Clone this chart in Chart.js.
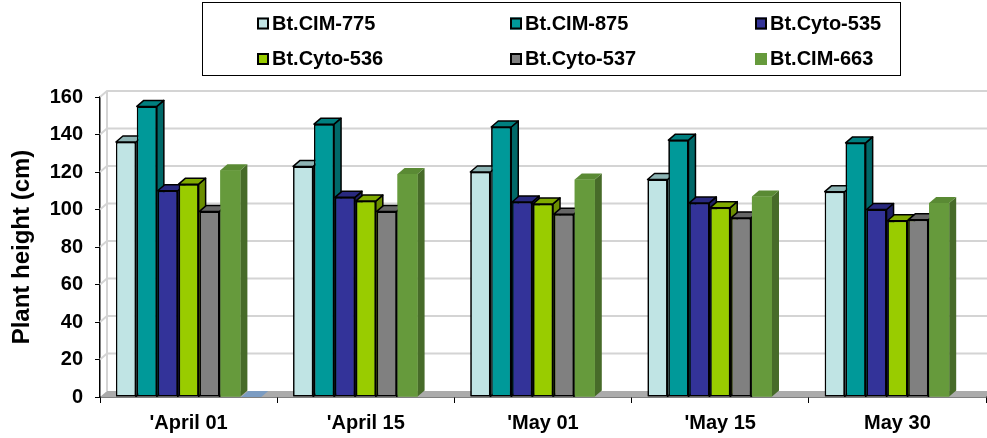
<!DOCTYPE html>
<html>
<head>
<meta charset="utf-8">
<script src="https://cdn.jsdelivr.net/npm/chart.js@4.4.1/dist/chart.umd.min.js"></script>
<style>
  html, body { margin: 0; padding: 0; background: #fff; }
  #chart { display: block; }
</style>
</head>
<body>
<canvas id="chart" width="987" height="438"></canvas>
<script>
const dates = ["'April 01", "'April 15", "'May 01", "'May 15", "May 30"];
const varieties = ["Bt.CIM-775", "Bt.CIM-875", "Bt.Cyto-535", "Bt.Cyto-536", "Bt.Cyto-537", "Bt.CIM-663"];

const cim775 = [136, 123, 120, 116, 109.5];
const cim875 = [155, 145.5, 144, 137, 135.5];
const cyto535 = [110, 106.5, 104, 103.5, 100];
const cyto536 = [113.5, 104.5, 103, 101, 94];
const cyto537 = [99, 99, 97.5, 95.5, 94.5];
const cim663 = [121, 119, 116, 107, 103.5];
// empty series slot, only shows as a flat base on the first date
const blank = [0, null, null, null, null];

const yTicks = [0, 20, 40, 60, 80, 100, 120, 140, 160];

const fronts = ["#C0E4E4", "#009999", "#333399", "#99CC00", "#808080", "#669A3C", "#7B9CC2"];
const tops = ["#8DB4B4", "#007F7F", "#29297F", "#80AA00", "#666666", "#5A8A34", "#7B9CC2"];
const sides = ["#8DB4B4", "#006868", "#202066", "#6B8E00", "#555555", "#476B29", "#6A88AA"];
const outlined = [true, true, true, true, true, false, false];

const dx = 7, dy = -6;
const FONT = '"Liberation Sans", Arial, sans-serif';

// back wall, floor and gridlines behind the bars
const wallPlugin = {
  id: 'wall',
  beforeDatasetsDraw(chart) {
    const { ctx, chartArea: a, scales } = chart;
    const ys = scales.y;
    ctx.save();
    ctx.lineWidth = 2;
    ctx.strokeStyle = '#D4D4D4';
    yTicks.forEach(v => {
      if (v === 0) return;
      const py = ys.getPixelForValue(v);
      ctx.beginPath();
      ctx.moveTo(a.left, py);
      ctx.lineTo(a.left + dx, py + dy);
      ctx.lineTo(a.right + dx, py + dy);
      ctx.stroke();
    });
    // left wall edge
    ctx.beginPath();
    ctx.moveTo(a.left + dx, ys.getPixelForValue(160) + dy);
    ctx.lineTo(a.left + dx, a.bottom + dy);
    ctx.stroke();
    // floor
    ctx.fillStyle = '#ABABAB';
    ctx.beginPath();
    ctx.moveTo(a.left, a.bottom);
    ctx.lineTo(a.left + dx, a.bottom + dy);
    ctx.lineTo(a.right + dx, a.bottom + dy);
    ctx.lineTo(a.right, a.bottom);
    ctx.closePath();
    ctx.fill();
    ctx.restore();
  }
};

// top and side faces, then the front face again so neighbours overlap properly
const barsPlugin = {
  id: 'bars3d',
  afterDatasetsDraw(chart) {
    const ctx = chart.ctx;
    ctx.save();
    ctx.beginPath();
    ctx.rect(chart.chartArea.left, 0, chart.chartArea.width, chart.chartArea.bottom);
    ctx.clip();
    ctx.lineJoin = 'round';
    chart.data.datasets.forEach((ds, i) => {
      const meta = chart.getDatasetMeta(i);
      meta.data.forEach((bar, j) => {
        if (ds.data[j] == null) return;
        const { x, y, base, width } = bar.getProps(['x', 'y', 'base', 'width'], true);
        const l = x - width / 2, r = x + width / 2;
        ctx.lineWidth = 1.5;
        ctx.strokeStyle = '#000';

        ctx.beginPath();
        ctx.moveTo(r, y);
        ctx.lineTo(r + dx, y + dy);
        ctx.lineTo(r + dx, base + dy);
        ctx.lineTo(r, base);
        ctx.closePath();
        ctx.fillStyle = sides[i];
        ctx.fill();
        if (outlined[i]) ctx.stroke();

        ctx.beginPath();
        ctx.moveTo(l, y);
        ctx.lineTo(l + dx, y + dy);
        ctx.lineTo(r + dx, y + dy);
        ctx.lineTo(r, y);
        ctx.closePath();
        ctx.fillStyle = tops[i];
        ctx.fill();
        if (outlined[i]) ctx.stroke();

        bar.draw(ctx);
      });
    });
    ctx.restore();
  }
};

// boxed legend, three columns by two rows
const legendPlugin = {
  id: 'boxLegend',
  afterDraw(chart) {
    const ctx = chart.ctx;
    const colX = [257, 510, 755];
    const rowY = [23.5, 59];
    ctx.save();
    ctx.strokeStyle = '#000';
    ctx.lineWidth = 1;
    ctx.strokeRect(202.5, 2.5, 698, 73);
    ctx.font = 'bold 20px ' + FONT;
    ctx.textBaseline = 'middle';
    varieties.forEach((name, i) => {
      const x = colX[i % 3], y = rowY[Math.floor(i / 3)];
      ctx.fillStyle = fronts[i];
      ctx.fillRect(x, y - 6, 12, 12);
      if (outlined[i]) {
        ctx.lineWidth = 2;
        ctx.strokeRect(x + 1, y - 5, 10, 10);
      }
      ctx.fillStyle = '#000';
      ctx.fillText(name, x + 15, y + 0.5);
    });
    ctx.restore();
  }
};

const series = [cim775, cim875, cyto535, cyto536, cyto537, cim663, blank];

const datasets = series.map((vals, i) => ({
  label: varieties[i] || '',
  data: vals,
  backgroundColor: fronts[i],
  borderColor: '#000',
  borderWidth: outlined[i] ? 1.5 : 0,
  borderSkipped: false,
  barPercentage: 0.96,
  categoryPercentage: 0.825
}));

const ctx = document.getElementById('chart').getContext('2d');
new Chart(ctx, {
  type: 'bar',
  data: { labels: dates, datasets: datasets },
  options: {
    responsive: false,
    animation: false,
    layout: { padding: { left: 8, top: 97, right: 1, bottom: 0 } },
    plugins: { legend: { display: false }, tooltip: { enabled: false } },
    scales: {
      x: {
        grid: { offset: true, drawOnChartArea: false, drawTicks: true, tickLength: 6, color: '#000' },
        border: { display: true, color: '#000', width: 1.5 },
        ticks: { color: '#000', padding: 8, font: { family: FONT, size: 20, weight: 'bold' } },
        afterFit: s => { s.height = 41; }
      },
      y: {
        min: 0,
        max: 160,
        afterBuildTicks: s => { s.ticks = yTicks.map(v => ({ value: v })); },
        grid: { drawOnChartArea: false, drawTicks: true, tickLength: 5, color: '#000' },
        border: { display: true, color: '#000', width: 1.5 },
        ticks: { color: '#000', padding: 12, font: { family: FONT, size: 20, weight: 'bold' } },
        title: {
          display: true,
          text: 'Plant height (cm)',
          color: '#000',
          padding: { top: 0, bottom: 0 },
          font: { family: FONT, size: 24, weight: 'bold' }
        },
        afterFit: s => { s.width = 92; }
      }
    }
  },
  plugins: [wallPlugin, barsPlugin, legendPlugin]
});
</script>
</body>
</html>
